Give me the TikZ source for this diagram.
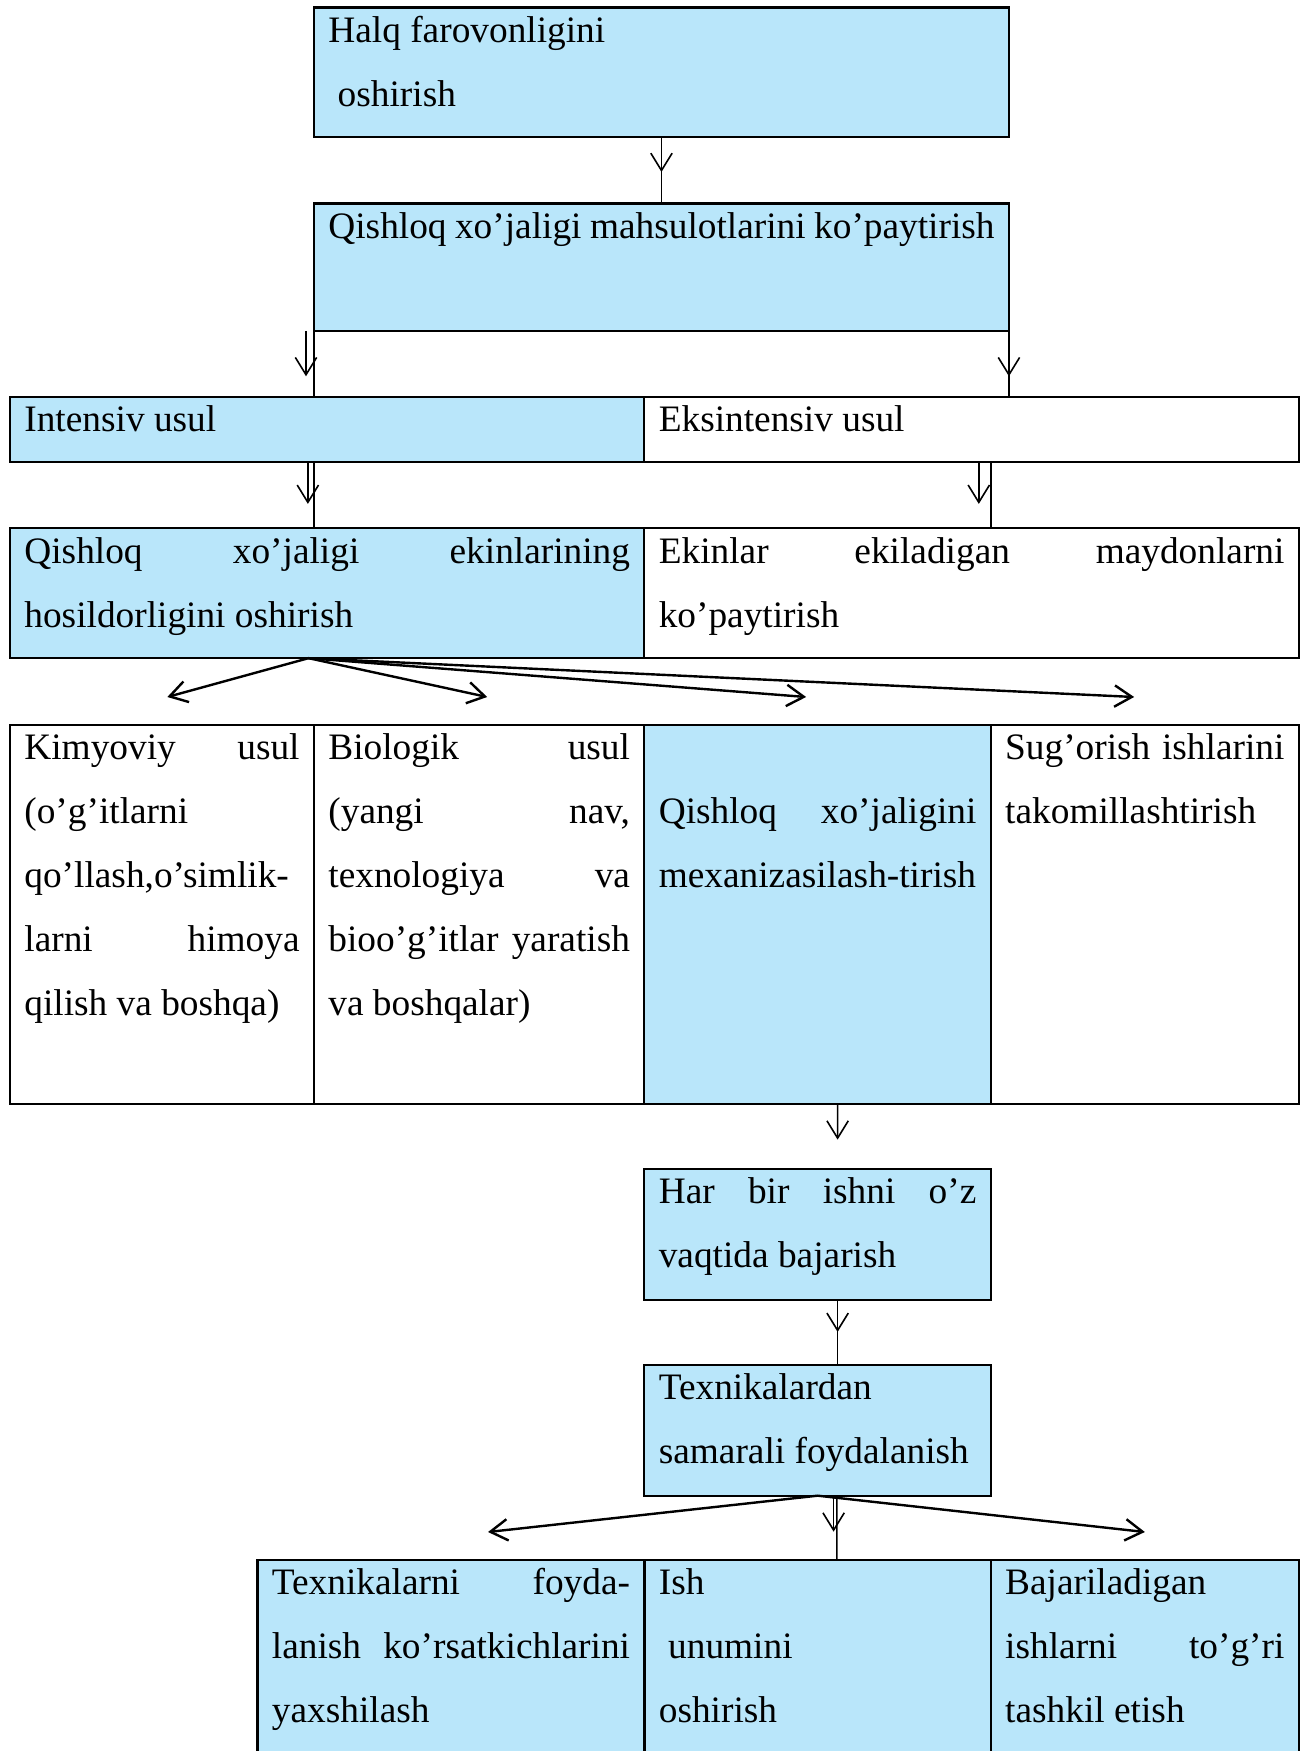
\documentclass[tikz,border=0pt]{standalone}
\usepackage{fontspec}
\setmainfont{Liberation Serif}
\usetikzlibrary{positioning,arrows.meta}
\definecolor{cellblue}{RGB}{185,230,250}
\hyphenpenalty=10000
\exhyphenpenalty=10000

\begin{document}
\begin{tikzpicture}[x=0.375pt, y=-0.375pt,
      cell/.style={draw, line width=0.8pt, anchor=north west, inner xsep=5.4pt, inner ysep=0pt,
                   outer sep=0pt, align=justify, text height=13.1pt,
                   font=\fontsize{14pt}{24pt}\selectfont},
      bluecell/.style={fill=cellblue},
      link/.style={line width=0.6pt},
      arr/.style={-{Straight Barb[length=6.5pt, width=8pt]}, line width=0.6pt},
      fan/.style={arr, line width=0.9pt}]
    \useasboundingbox (0,0) rectangle (1309,1751);
    \clip (0,0) rectangle (1309,1751);
    \fill[white] (0,0) rectangle (1309,1751);
    % top boxes
    \node[cell, bluecell, text width=249.8pt, text depth=35.6pt] (halq) at (314,7.5)
      {Halq farovonligini\\\hspace*{3.5pt}oshirish};
    \node[cell, bluecell, text width=249.8pt, text depth=34.7pt] (mahs) at (314,203.5)
      {Qishloq xo’jaligi mahsulotlarini ko’paytirish};
    % two ways
    \node[cell, bluecell, text width=227.1pt, text depth=11.5pt] (int) at (10,396.7)
      {Intensiv usul};
    \node[cell, text width=234.6pt, text depth=11.5pt, right=0pt of int] (eks)
      {Eksintensiv usul};
    \node[cell, bluecell, text width=227.1pt, text depth=35.6pt] (hosil) at (10,528.3)
      {Qishloq xo’jaligi ekinlarining\linebreak hosildorligini oshirish};
    \node[cell, text width=234.6pt, text depth=35.6pt, right=0pt of hosil] (eki)
      {Ekinlar ekiladigan maydonlarni\linebreak ko’paytirish};
    % methods
    \node[cell, text width=103.2pt, text depth=129pt] (kim) at (10,725)
      {Kimyoviy usul\linebreak (o’g’itlarni\\ qo’llash,o’simlik-\\ larni himoya\linebreak qilish va boshqa)};
    \node[cell, text width=113.1pt, text depth=129pt, right=0pt of kim] (bio)
      {Biologik usul\linebreak (yangi nav,\linebreak texnologiya va\linebreak bioo’g’itlar yaratish\linebreak va boshqalar)};
    \node[cell, bluecell, text width=119.1pt, text depth=129pt, right=0pt of bio] (mex)
      {\mbox{}\\ Qishloq xo’jaligini\linebreak mexanizasilash-tirish};
    \node[cell, text width=104.7pt, text depth=129pt, right=0pt of mex] (sug)
      {Sug’orish ishlarini\linebreak takomillashtirish};
    % mechanisation chain
    \node[cell, bluecell, text width=119.1pt, text depth=36pt] (har) at (644.4,1169)
      {Har bir ishni o’z\linebreak vaqtida bajarish};
    \node[cell, bluecell, text width=119.1pt, text depth=35.9pt] (tex) at (644.4,1365)
      {Texnikalardan\\ samarali foydalanish};
    \node[cell, bluecell, text width=134.3pt, text depth=63.8pt] (texn) at (257.5,1560)
      {Texnikalarni foyda-\linebreak lanish ko’rsatkichlarini\linebreak yaxshilash};
    \node[cell, bluecell, text width=119.1pt, text depth=63.8pt, right=0pt of texn] (ish)
      {Ish\\\hspace*{3.5pt}unumini\\ oshirish};
    \node[cell, bluecell, text width=104.7pt, text depth=63.8pt, right=0pt of ish] (baj)
      {Bajariladigan\\ ishlarni to’g’ri\linebreak tashkil etish};
    % connectors
    \draw[link] (halq) -- (mahs); \draw[arr] (halq.south) -- ++(0,-13pt);
    \draw[link] (mahs.south west) -- (mahs.south west |- int.north);
    \draw[arr] ([xshift=-3pt]mahs.south west) -- ++(0,-17pt);
    \draw[link] (mahs.south east) -- (mahs.south east |- eks.north);
    \draw[arr] (mahs.south east) -- ++(0,-17pt);
    \draw[link] (mahs.south west |- int.south) -- (mahs.south west |- hosil.north);
    \draw[arr] ([xshift=-2.3pt]mahs.south west |- int.south) -- ++(0,-15.6pt);
    \draw[link] (mex.north east |- eks.south) -- (mex.north east |- eki.north);
    \draw[arr] ([xshift=-4.5pt]mex.north east |- eks.south) -- ++(0,-15.6pt);
    \draw[fan] ([xshift=-7pt]hosil.south) -- ([xshift=2pt, yshift=10.5pt]kim.north);
    \draw[fan] ([xshift=-7pt]hosil.south) -- ([xshift=3pt, yshift=10.5pt]bio.north);
    \draw[fan] ([xshift=-7pt]hosil.south) -- ([xshift=-4.3pt, yshift=10.5pt]mex.north);
    \draw[fan] ([xshift=-7pt]hosil.south) -- ([xshift=-4pt, yshift=10.5pt]sug.north);
    \draw[arr] ([xshift=7.5pt]mex.south) -- ([xshift=7.5pt, yshift=11pt]har.north);
    \draw[link] ([xshift=7.5pt]har.south) -- ([xshift=7.5pt]tex.north);
    \draw[arr] ([xshift=7.5pt]har.south) -- ++(0,-12pt);
    \draw[fan] (tex.south) -- ([xshift=13.9pt, yshift=10.5pt]texn.north);
    \draw[fan] (tex.south) -- ([yshift=10.5pt]baj.north);
    \draw[arr] ([xshift=6pt]tex.south) -- ++(0,-13.5pt);
    \draw[link] ([xshift=7.2pt]tex.south) -- ([xshift=7.2pt]ish.north);
  \end{tikzpicture}
\end{document}
